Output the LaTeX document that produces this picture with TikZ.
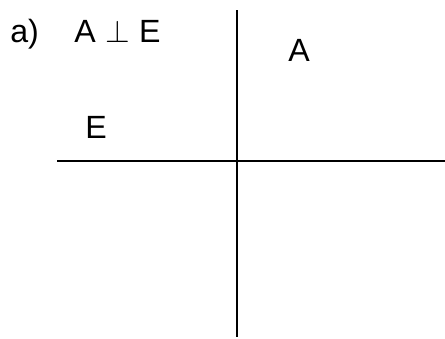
\documentclass[tikz,border=0pt]{standalone}
\usepackage{fix-cm}
\usepackage{fontspec}
\setmainfont{Liberation Sans}
\usetikzlibrary{positioning}

\begin{document}
\begin{tikzpicture}[
  x=0.02cm, y=-0.02cm,
  lbl/.style={inner sep=0pt, anchor=base west, font=\fontsize{18.3}{22}\selectfont},
  axis/.style={line width=1.1pt}
]

%% Fixed frame (reference proportions)
\useasboundingbox (0,0) rectangle (445,338);

%% Axis end points
\coordinate (vtop) at (237, 10);
\coordinate (vbot) at (237, 337);
\coordinate (hleft) at (57, 161);
\coordinate (hright) at (445, 161);

%% Axes
\draw[axis] (vtop)  -- (vbot);
\draw[axis] (hleft) -- (hright);

%% Labels
\node[lbl] (part) at (10, 42) {a)};
\node[lbl] (rel) at (74, 42)
  {A\hspace{0.3em}{\fontsize{18}{20}\selectfont$\perp$}\hspace{0.28em}E};
\node[lbl] (labA) at (288, 61) {A};
\node[lbl] (labE) at (85, 138) {E};

\end{tikzpicture}
\end{document}
